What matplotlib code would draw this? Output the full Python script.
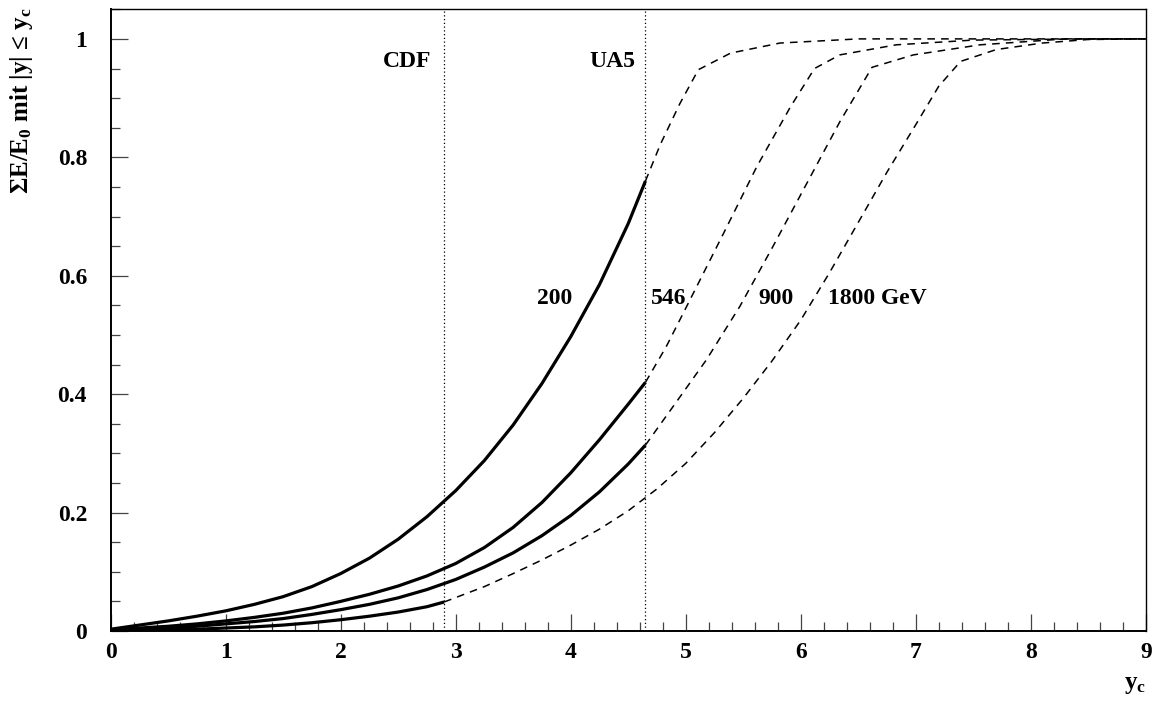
import matplotlib.pyplot as plt
from matplotlib.ticker import MultipleLocator, FixedLocator, FixedFormatter

plt.rcParams["font.family"] = ["Liberation Serif", "DejaVu Serif"]
plt.rcParams["font.weight"] = "bold"
plt.rcParams["mathtext.fontset"] = "custom"
plt.rcParams["mathtext.rm"] = "Liberation Serif:bold"
plt.rcParams["mathtext.it"] = "Liberation Serif:bold"
plt.rcParams["mathtext.bf"] = "Liberation Serif:bold"

# energy fraction inside |y| <= y_c, solid = measured range, dashed = extrapolation
y_grid = [0, 0.25, 0.5, 0.75, 1.0, 1.25, 1.5, 1.75, 2.0, 2.25, 2.5, 2.75,
          3.0, 3.25, 3.5, 3.75, 4.0, 4.25, 4.5, 4.65]
frac_200 = [0.003, 0.010, 0.017, 0.025, 0.034, 0.045, 0.058, 0.075, 0.097, 0.123,
            0.155, 0.193, 0.237, 0.288, 0.348, 0.418, 0.497, 0.585, 0.688, 0.760]
frac_546 = [0.002, 0.005, 0.008, 0.012, 0.017, 0.023, 0.030, 0.039, 0.050, 0.062,
            0.076, 0.093, 0.114, 0.141, 0.175, 0.217, 0.267, 0.323, 0.383, 0.420]
frac_900 = [0.001, 0.003, 0.005, 0.008, 0.012, 0.016, 0.021, 0.028, 0.036, 0.045,
            0.056, 0.070, 0.087, 0.108, 0.132, 0.161, 0.195, 0.235, 0.282, 0.314]

y_1800 = [0, 0.25, 0.5, 0.75, 1.0, 1.25, 1.5, 1.75, 2.0, 2.25, 2.5, 2.75, 2.9]
frac_1800 = [0.0005, 0.001, 0.002, 0.003, 0.005, 0.007, 0.010, 0.014, 0.019,
             0.025, 0.032, 0.041, 0.049]

ext_y_200 = [4.65, 4.78, 4.95, 5.11, 5.39, 5.82, 6.5, 9.0]
ext_200 = [0.760, 0.822, 0.891, 0.948, 0.976, 0.993, 1.0, 1.0]
ext_y_546 = [4.65, 4.83, 5.0, 5.33, 5.62, 5.91, 6.12, 6.34, 6.83, 7.5, 8.5, 9.0]
ext_546 = [0.420, 0.480, 0.545, 0.672, 0.785, 0.885, 0.950, 0.973, 0.990, 0.998, 1.0, 1.0]
ext_y_900 = [4.65, 4.89, 5.18, 5.47, 5.76, 6.05, 6.34, 6.62, 6.98, 7.56, 8.3, 9.0]
ext_900 = [0.314, 0.379, 0.458, 0.548, 0.650, 0.755, 0.860, 0.952, 0.973, 0.990, 1.0, 1.0]
ext_y_1800 = [2.9, 3.25, 3.5, 3.75, 4.0, 4.25, 4.5, 4.75, 5.0, 5.25, 5.5, 5.75,
              6.0, 6.25, 6.5, 6.75, 7.0, 7.2, 7.39, 7.7, 8.1, 8.5, 9.0]
ext_1800 = [0.049, 0.075, 0.097, 0.120, 0.145, 0.172, 0.203, 0.240, 0.283, 0.335,
            0.393, 0.456, 0.525, 0.605, 0.690, 0.775, 0.855, 0.920, 0.962, 0.982,
            0.993, 0.999, 1.0]

# detector acceptance limits
cdf_cut = 2.9
ua5_cut = 4.65

energy_labels = ["200", "546", "900", "1800 GeV"]
energy_label_x = [3.71, 4.70, 5.63, 6.24]

fig = plt.figure(figsize=(11.55, 7.04), dpi=100)
ax = fig.add_axes([0.0958, 0.1037, 0.8962, 0.8831])

solid = dict(color="black", lw=2.3, solid_capstyle="butt")
dashed = dict(color="black", lw=1.1, linestyle=(0, (5, 4)))
ax.plot(y_grid, frac_200, **solid)
ax.plot(y_grid, frac_546, **solid)
ax.plot(y_grid, frac_900, **solid)
ax.plot(y_1800, frac_1800, **solid)
ax.plot(ext_y_200, ext_200, **dashed)
ax.plot(ext_y_546, ext_546, **dashed)
ax.plot(ext_y_900, ext_900, **dashed)
ax.plot(ext_y_1800, ext_1800, **dashed)

for cut in (cdf_cut, ua5_cut):
    ax.axvline(cut, color="black", lw=0.9, linestyle=(0, (1, 2)))

ax.text(2.79, 0.961, "CDF", ha="right", va="center", fontsize=17, fontweight="bold")
ax.text(4.56, 0.961, "UA5", ha="right", va="center", fontsize=17, fontweight="bold")
for lab, xl in zip(energy_labels, energy_label_x):
    ax.text(xl, 0.561, lab, ha="left", va="center", fontsize=17, fontweight="bold")

ax.set_xlim(0, 9)
ax.set_ylim(0, 1.05)
ax.xaxis.set_major_locator(MultipleLocator(1))
ax.xaxis.set_minor_locator(MultipleLocator(0.2))
ax.yaxis.set_major_locator(FixedLocator([0, 0.2, 0.4, 0.6, 0.8, 1.0]))
ax.yaxis.set_major_formatter(FixedFormatter(["0", "0.2", "0.4", "0.6", "0.8", "1"]))
ax.yaxis.set_minor_locator(MultipleLocator(0.05))
ax.tick_params(which="both", direction="in", top=False, right=False,
               labelsize=17, width=0.9, color="#444444")
ax.tick_params(which="major", length=12)
ax.tick_params(which="minor", length=6.5)
ax.tick_params(axis="y", pad=17)
ax.tick_params(axis="x", pad=8)
for lab in ax.get_xticklabels() + ax.get_yticklabels():
    lab.set_fontweight("bold")

for side in ("top", "right"):
    ax.spines[side].set_linewidth(1.0)
for side in ("bottom", "left"):
    ax.spines[side].set_linewidth(1.4)

fig.text(0.992, 0.012, "y$_c$", ha="right", va="bottom", fontsize=18, fontweight="bold")
fig.text(0.019, 0.989, "ΣE/E$_0$ mit |y| ≤ y$_c$", rotation=90, ha="center", va="top",
         fontsize=18, fontweight="bold")

fig.savefig("out.png", dpi=100)
